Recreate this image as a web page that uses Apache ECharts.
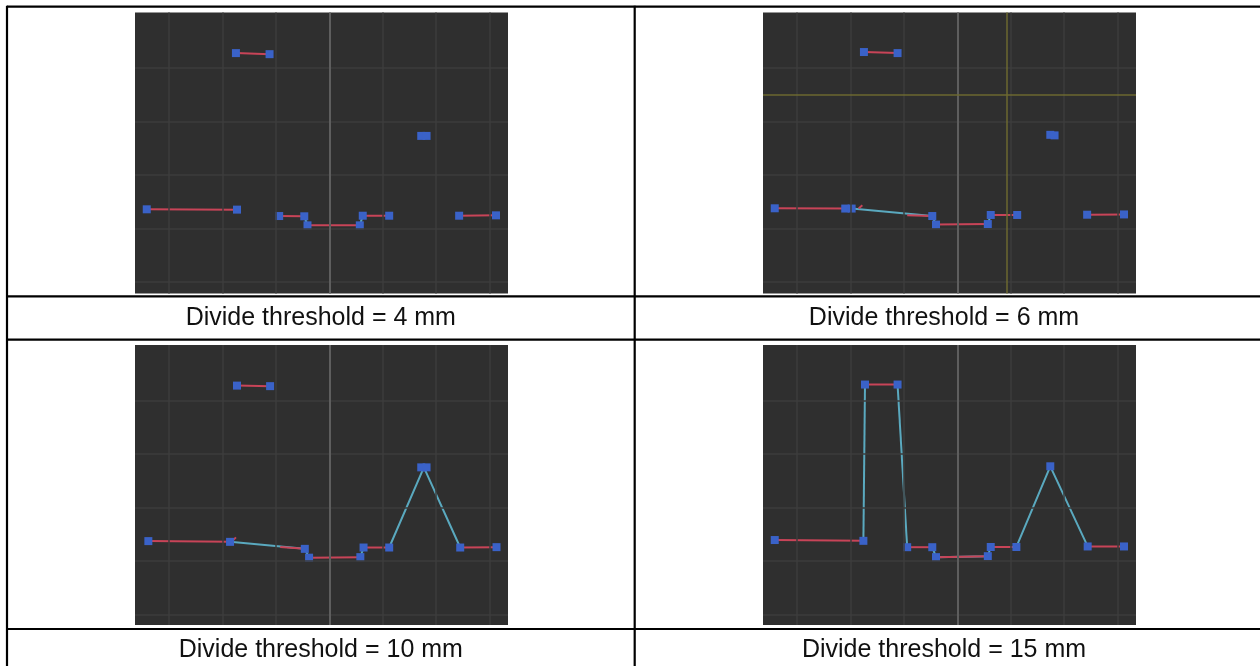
<!DOCTYPE html>
<html>
<head>
<meta charset="utf-8">
<script src="https://cdn.jsdelivr.net/npm/echarts@6/dist/echarts.min.js"></script>
<style>
html,body{margin:0;padding:0;background:#fff;}
#c{width:1260px;height:666px;}
</style>
</head>
<body>
<div id="c"></div>
<script>
// ---- data (grid units: one unit = one background grid cell) ----
const captions = ['Divide threshold = 4 mm', 'Divide threshold = 6 mm', 'Divide threshold = 10 mm', 'Divide threshold = 15 mm'];
const gridXs = [-3, -2, -1, 1, 2, 3];
const gridYs = [-1, 1, 2, 3];
const centerX = 0;

// Panel 1: 4 mm
const pts4 = [[-3.42,0.356],[-1.73,0.35],[-1.75,3.28],[-1.12,3.26],[-0.94,0.23],[-0.47,0.225],[-0.41,0.056],[0.57,0.056],[0.625,0.236],[1.12,0.236],[1.72,1.73],[1.82,1.73],[2.43,0.236],[3.12,0.243]];
const teal4 = [[[-0.47,0.225],[-0.41,0.056]], [[0.57,0.056],[0.625,0.236]]];
const red4 = [[[-3.42,0.356],[-1.73,0.35]], [[-1.75,3.28],[-1.12,3.26]], [[-0.94,0.23],[-0.47,0.225]], [[-0.41,0.056],[0.57,0.056]], [[0.625,0.236],[1.12,0.236]], [[2.43,0.236],[3.12,0.243]]];

// Panel 2: 6 mm
const pts6 = [[-3.42,0.375],[-2.1,0.37],[-1.98,0.37],[-0.47,0.23],[-0.40,0.07],[0.57,0.08],[0.625,0.25],[1.12,0.25],[-1.75,3.30],[-1.12,3.28],[1.74,1.75],[1.82,1.74],[2.43,0.255],[3.12,0.26]];
const teal6 = [[[-1.98,0.37],[-0.47,0.23]], [[-0.47,0.23],[-0.40,0.07]], [[0.57,0.08],[0.625,0.25]]];
const red6 = [[[-3.42,0.375],[-2.1,0.37]], [[-1.85,0.37],[-1.78,0.43]], [[-0.94,0.245],[-0.47,0.23]], [[-0.40,0.07],[0.57,0.08]], [[0.625,0.25],[1.12,0.25]], [[-1.75,3.30],[-1.12,3.28]], [[2.43,0.255],[3.12,0.26]]];
const yellowX6 = 0.92;
const yellowY6 = 2.5;

// Panel 3: 10 mm
const pts10 = [[-3.39,0.37],[-1.86,0.356],[-1.73,3.28],[-1.11,3.27],[-0.46,0.225],[-0.38,0.06],[0.58,0.07],[0.64,0.25],[1.12,0.25],[1.72,1.75],[1.82,1.75],[2.45,0.25],[3.13,0.257]];
const teal10 = [[[-1.86,0.356],[-0.46,0.225],[-0.38,0.06]], [[0.58,0.07],[0.64,0.25]], [[1.12,0.25],[1.77,1.75],[2.45,0.25]]];
const red10 = [[[-3.39,0.37],[-1.86,0.356]], [[-1.82,0.37],[-1.75,0.44]], [[-0.92,0.26],[-0.46,0.225]], [[-0.38,0.06],[0.58,0.07]], [[0.64,0.25],[1.12,0.25]], [[-1.73,3.28],[-1.11,3.27]], [[2.45,0.25],[3.13,0.257]]];

// Panel 4: 15 mm
const pts15 = [[-3.42,0.39],[-1.76,0.375],[-1.73,3.30],[-1.12,3.30],[-0.94,0.256],[-0.47,0.256],[-0.40,0.07],[0.57,0.088],[0.625,0.26],[1.105,0.26],[1.74,1.77],[2.44,0.27],[3.12,0.27]];
const teal15 = [[[-1.76,0.375],[-1.73,3.30]], [[-1.12,3.30],[-0.94,0.256]], [[-0.47,0.256],[-0.40,0.07],[0.57,0.088],[0.625,0.26]], [[1.105,0.26],[1.74,1.77],[2.44,0.27]]];
const red15 = [[[-3.42,0.39],[-1.76,0.375]], [[-1.73,3.30],[-1.12,3.30]], [[-0.94,0.256],[-0.47,0.256]], [[-0.40,0.07],[0.57,0.088]], [[0.625,0.26],[1.105,0.26]], [[2.44,0.27],[3.12,0.27]]];

const panels = [
  {pts: pts4, teal: teal4, red: red4},
  {pts: pts6, teal: teal6, red: red6, yx: yellowX6, yy: yellowY6},
  {pts: pts10, teal: teal10, red: red10},
  {pts: pts15, teal: teal15, red: red15}
];

// ---- layout ----
const rects = [
  {left: 135, top: 12.5, width: 373, height: 281, ymin: -1.22},
  {left: 763, top: 12.5, width: 373, height: 281, ymin: -1.22},
  {left: 135, top: 345, width: 373, height: 280, ymin: -1.2},
  {left: 763, top: 345, width: 373, height: 280, ymin: -1.2}
];
const XMIN = -3.64, XMAX = 3.345, YMAX = 4.04;

const BG = '#2f2f2f', GRIDC = '#3c3c3c', CENTERC = '#5e5e5e';
const TEAL = '#5aa9bf', RED = '#c84458', BLUE = '#3a62c8', YEL = '#6c6930';

const grid = [], xAxis = [], yAxis = [], series = [];
rects.forEach((r, i) => {
  grid.push({left: r.left, top: r.top, width: r.width, height: r.height, show: true, backgroundColor: BG, borderWidth: 0, containLabel: false});
  xAxis.push({type: 'value', gridIndex: i, min: XMIN, max: XMAX, show: false});
  yAxis.push({type: 'value', gridIndex: i, min: r.ymin, max: YMAX, show: false});
  const p = panels[i];
  const ml = [];
  gridXs.forEach(v => ml.push({xAxis: v, lineStyle: {color: GRIDC, width: 1.5, type: 'solid'}}));
  gridYs.forEach(v => ml.push({yAxis: v, lineStyle: {color: GRIDC, width: 1.5, type: 'solid'}}));
  ml.push({yAxis: 0, lineStyle: {color: GRIDC, width: 1.5, type: 'solid'}});
  ml.push({xAxis: centerX, lineStyle: {color: CENTERC, width: 2, type: 'solid'}});
  if (p.yx !== undefined) {
    ml.push({xAxis: p.yx, lineStyle: {color: YEL, width: 1.5, type: 'solid'}});
    ml.push({yAxis: p.yy, lineStyle: {color: YEL, width: 1.5, type: 'solid'}});
  }
  series.push({
    type: 'line', xAxisIndex: i, yAxisIndex: i, data: [[100, 100]], symbol: 'none', silent: true, z: 1,
    lineStyle: {opacity: 0}, animation: false,
    markLine: {silent: true, symbol: ['none', 'none'], label: {show: false}, animation: false, data: ml}
  });
  p.teal.forEach(seg => series.push({
    type: 'line', xAxisIndex: i, yAxisIndex: i, data: seg, symbol: 'none', z: 2, animation: false,
    lineStyle: {color: TEAL, width: 2}
  }));
  p.red.forEach(seg => series.push({
    type: 'line', xAxisIndex: i, yAxisIndex: i, data: seg, symbol: 'none', z: 3, animation: false,
    lineStyle: {color: RED, width: 2}
  }));
  series.push({
    type: 'scatter', xAxisIndex: i, yAxisIndex: i, data: p.pts, symbol: 'rect', symbolSize: 8, z: 4, animation: false,
    itemStyle: {color: BLUE, opacity: 1}
  });
});

// table rules and captions
const lines = [
  [7, 6.7, 1260, 6.7], [7, 296.3, 1260, 296.3], [7, 339.7, 1260, 339.7], [7, 629, 1260, 629],
  [7, 5.7, 7, 666], [634.7, 5.7, 634.7, 666]
];
const graphic = lines.map(l => ({
  type: 'line', shape: {x1: l[0], y1: l[1], x2: l[2], y2: l[3]}, style: {stroke: '#000', lineWidth: 2.2}, silent: true, z: 10
}));
const capPos = [[320.8, 318.5], [944, 318.5], [320.8, 650.5], [944, 650.5]];
captions.forEach((t, i) => graphic.push({
  type: 'text', x: capPos[i][0], y: capPos[i][1], silent: true, z: 10,
  style: {text: t, fill: '#111', font: '25px "Liberation Sans", Arial, sans-serif', textAlign: 'center', textVerticalAlign: 'middle', align: 'center', verticalAlign: 'middle'}
}));

const chart = echarts.init(document.getElementById('c'), null, {renderer: 'canvas'});
chart.setOption({animation: false, backgroundColor: '#fff', grid, xAxis, yAxis, series, graphic});
</script>
</body>
</html>
